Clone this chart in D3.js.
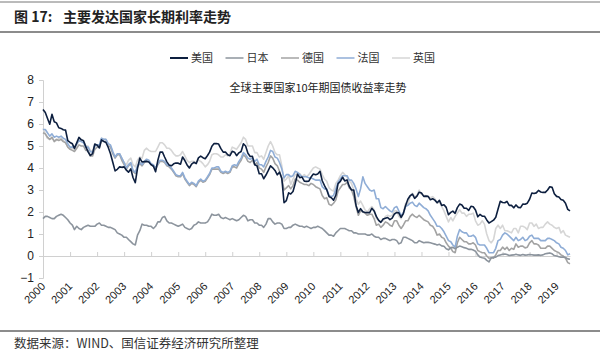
<!DOCTYPE html>
<html>
<head>
<meta charset="utf-8">
<script src="https://cdn.jsdelivr.net/npm/d3@7"></script>
<style>
  body { margin: 0; background: #fff; }
  svg { display: block; }
</style>
</head>
<body>
<svg width="600" height="352"></svg>
<script>
// monthly 10y yields, Jan 2000 .. Jul 2019
var seriesNames = ["美国", "日本", "德国", "法国", "英国"];
var seriesColors = ["#0d1f3f", "#8c949d", "#a3a3a3", "#8fadd6", "#d6d6d6"];

var us = [
  6.66, 6.52, 6.26, 5.99, 6.44, 6.10, 6.05, 5.83, 5.80, 5.74, 5.72, 5.24,
  5.16, 5.10, 4.89, 5.14, 5.39, 5.28, 5.24, 4.97, 4.73, 4.57, 4.65, 5.09,
  5.04, 4.91, 5.28, 5.21, 5.16, 4.93, 4.65, 4.26, 3.87, 3.94, 4.05, 4.03,
  4.05, 3.90, 3.81, 3.96, 3.57, 3.33, 3.98, 4.45, 4.27, 4.29, 4.30, 4.27,
  4.15, 4.08, 3.83, 4.35, 4.72, 4.73, 4.50, 4.28, 4.13, 4.10, 4.19, 4.23,
  4.22, 4.17, 4.50, 4.34, 4.14, 4.00, 4.18, 4.26, 4.20, 4.46, 4.54, 4.47,
  4.42, 4.57, 4.72, 4.99, 5.11, 5.11, 5.09, 4.88, 4.72, 4.73, 4.60, 4.56,
  4.76, 4.72, 4.56, 4.69, 4.75, 5.10, 5.00, 4.67, 4.52, 4.53, 4.15, 4.10,
  3.74, 3.74, 3.51, 3.68, 3.88, 4.10, 4.01, 3.89, 3.69, 3.81, 3.53, 2.42,
  2.52, 2.87, 2.82, 2.93, 3.29, 3.72, 3.56, 3.59, 3.40, 3.39, 3.40, 3.59,
  3.73, 3.69, 3.73, 3.85, 3.42, 3.20, 3.01, 2.70, 2.65, 2.54, 2.76, 3.29,
  3.39, 3.58, 3.41, 3.46, 3.17, 3.00, 3.00, 2.30, 1.98, 2.15, 2.01, 1.98,
  1.97, 1.97, 2.17, 2.05, 1.80, 1.62, 1.53, 1.68, 1.72, 1.75, 1.65, 1.72,
  1.91, 1.98, 1.96, 1.76, 1.93, 2.30, 2.58, 2.74, 2.81, 2.62, 2.72, 2.90,
  2.86, 2.71, 2.72, 2.71, 2.56, 2.60, 2.54, 2.42, 2.53, 2.30, 2.33, 2.21,
  1.88, 1.98, 2.04, 1.94, 2.20, 2.36, 2.32, 2.17, 2.17, 2.07, 2.26, 2.24,
  2.09, 1.78, 1.89, 1.81, 1.81, 1.64, 1.50, 1.56, 1.63, 1.76, 2.14, 2.49,
  2.43, 2.42, 2.48, 2.30, 2.30, 2.19, 2.32, 2.21, 2.20, 2.36, 2.35, 2.40,
  2.58, 2.86, 2.84, 2.87, 2.98, 2.91, 2.89, 2.89, 3.00, 3.15, 3.12, 2.83,
  2.71, 2.68, 2.57, 2.53, 2.40, 2.12, 2.05
];

var jp = [
  1.70, 1.80, 1.80, 1.75, 1.70, 1.70, 1.80, 1.85, 1.90, 1.85, 1.75, 1.65,
  1.50, 1.40, 1.20, 1.35, 1.25, 1.20, 1.30, 1.35, 1.40, 1.35, 1.35, 1.35,
  1.45, 1.50, 1.40, 1.40, 1.35, 1.30, 1.30, 1.25, 1.20, 1.05, 1.00, 0.95,
  0.85, 0.85, 0.75, 0.65, 0.55, 0.50, 0.95, 1.15, 1.45, 1.40, 1.40, 1.35,
  1.35, 1.25, 1.35, 1.55, 1.55, 1.75, 1.80, 1.60, 1.50, 1.50, 1.45, 1.40,
  1.35, 1.40, 1.45, 1.30, 1.25, 1.20, 1.25, 1.40, 1.45, 1.55, 1.50, 1.50,
  1.50, 1.55, 1.70, 1.90, 1.85, 1.85, 1.90, 1.75, 1.70, 1.75, 1.70, 1.65,
  1.70, 1.65, 1.60, 1.65, 1.75, 1.85, 1.80, 1.60, 1.65, 1.65, 1.50, 1.50,
  1.40, 1.40, 1.30, 1.45, 1.70, 1.70, 1.55, 1.45, 1.50, 1.50, 1.45, 1.25,
  1.25, 1.30, 1.30, 1.40, 1.45, 1.40, 1.35, 1.35, 1.30, 1.35, 1.30, 1.25,
  1.30, 1.30, 1.35, 1.30, 1.25, 1.15, 1.05, 0.95, 0.95, 0.90, 1.05, 1.15,
  1.25, 1.25, 1.25, 1.20, 1.15, 1.15, 1.05, 1.05, 1.00, 1.00, 1.00, 1.00,
  0.95, 0.95, 1.00, 0.90, 0.85, 0.85, 0.75, 0.80, 0.80, 0.75, 0.70, 0.75,
  0.75, 0.70, 0.55, 0.60, 0.85, 0.85, 0.80, 0.75, 0.70, 0.60, 0.60, 0.70,
  0.65, 0.60, 0.62, 0.62, 0.60, 0.57, 0.54, 0.50, 0.53, 0.46, 0.44, 0.33,
  0.28, 0.38, 0.39, 0.33, 0.40, 0.45, 0.42, 0.38, 0.35, 0.30, 0.31, 0.27,
  0.22, 0.05, -0.05, -0.08, -0.10, -0.20, -0.27, -0.08, -0.06, -0.05, 0.02, 0.05,
  0.08, 0.09, 0.07, 0.02, 0.04, 0.05, 0.08, 0.05, 0.03, 0.07, 0.04, 0.05,
  0.07, 0.06, 0.04, 0.04, 0.05, 0.03, 0.05, 0.10, 0.12, 0.14, 0.10, 0.02,
  0.00, -0.03, -0.06, -0.05, -0.07, -0.13, -0.15
];

var de = [
  5.60, 5.55, 5.40, 5.30, 5.40, 5.20, 5.30, 5.25, 5.30, 5.20, 5.15, 4.95,
  4.85, 4.80, 4.75, 4.90, 5.05, 5.00, 5.00, 4.80, 4.80, 4.55, 4.55, 4.85,
  4.95, 4.95, 5.25, 5.20, 5.20, 5.00, 4.95, 4.65, 4.45, 4.60, 4.60, 4.35,
  4.15, 3.95, 4.10, 4.20, 3.85, 3.75, 4.05, 4.20, 4.10, 4.25, 4.35, 4.30,
  4.15, 4.10, 3.95, 4.15, 4.30, 4.30, 4.25, 4.10, 4.05, 3.95, 3.80, 3.65,
  3.60, 3.60, 3.75, 3.50, 3.35, 3.20, 3.30, 3.25, 3.15, 3.35, 3.45, 3.35,
  3.40, 3.55, 3.70, 3.95, 3.95, 3.95, 3.95, 3.80, 3.75, 3.80, 3.75, 3.80,
  4.05, 4.05, 4.00, 4.20, 4.35, 4.60, 4.50, 4.30, 4.25, 4.35, 4.15, 4.25,
  4.00, 3.95, 3.80, 4.05, 4.25, 4.55, 4.45, 4.20, 4.10, 3.85, 3.50, 3.00,
  3.10, 3.20, 3.05, 3.20, 3.50, 3.45, 3.35, 3.30, 3.25, 3.25, 3.20, 3.30,
  3.25, 3.15, 3.10, 3.05, 2.75, 2.60, 2.65, 2.35, 2.30, 2.40, 2.55, 2.95,
  3.10, 3.25, 3.25, 3.35, 3.10, 3.00, 2.70, 2.25, 1.85, 2.05, 2.00, 1.95,
  1.85, 1.90, 1.90, 1.70, 1.40, 1.45, 1.30, 1.40, 1.55, 1.50, 1.40, 1.35,
  1.60, 1.60, 1.40, 1.25, 1.40, 1.60, 1.60, 1.80, 1.90, 1.80, 1.75, 1.85,
  1.75, 1.65, 1.60, 1.55, 1.40, 1.35, 1.20, 0.95, 1.00, 0.85, 0.80, 0.60,
  0.45, 0.35, 0.20, 0.15, 0.60, 0.85, 0.75, 0.65, 0.65, 0.55, 0.55, 0.60,
  0.50, 0.25, 0.20, 0.15, 0.15, 0.00, -0.10, -0.08, -0.10, 0.05, 0.25, 0.25,
  0.40, 0.30, 0.40, 0.25, 0.35, 0.30, 0.55, 0.40, 0.45, 0.45, 0.37, 0.40,
  0.60, 0.70, 0.55, 0.55, 0.50, 0.35, 0.35, 0.35, 0.45, 0.45, 0.35, 0.25,
  0.20, 0.15, 0.05, 0.00, -0.10, -0.30, -0.35
];

var fr = [
  5.75, 5.75, 5.60, 5.45, 5.55, 5.40, 5.45, 5.40, 5.45, 5.35, 5.30, 5.10,
  4.95, 4.95, 4.95, 5.10, 5.25, 5.20, 5.15, 4.95, 4.95, 4.75, 4.70, 5.00,
  5.05, 5.05, 5.35, 5.30, 5.30, 5.10, 5.05, 4.75, 4.50, 4.65, 4.65, 4.45,
  4.25, 4.00, 4.15, 4.25, 3.90, 3.80, 4.10, 4.25, 4.15, 4.30, 4.40, 4.35,
  4.20, 4.15, 4.00, 4.20, 4.35, 4.35, 4.30, 4.15, 4.10, 4.00, 3.85, 3.70,
  3.65, 3.65, 3.80, 3.55, 3.40, 3.25, 3.35, 3.30, 3.20, 3.40, 3.50, 3.40,
  3.45, 3.60, 3.75, 4.00, 4.00, 4.05, 4.05, 3.85, 3.80, 3.85, 3.80, 3.85,
  4.10, 4.15, 4.10, 4.30, 4.45, 4.70, 4.60, 4.45, 4.40, 4.45, 4.30, 4.40,
  4.15, 4.15, 4.05, 4.30, 4.50, 4.80, 4.75, 4.50, 4.45, 4.25, 3.95, 3.55,
  3.70, 3.70, 3.60, 3.65, 3.85, 3.80, 3.70, 3.60, 3.60, 3.60, 3.55, 3.55,
  3.50, 3.45, 3.45, 3.45, 3.15, 3.05, 3.05, 2.75, 2.70, 2.75, 3.05, 3.35,
  3.50, 3.65, 3.65, 3.65, 3.45, 3.45, 3.30, 3.05, 2.70, 3.05, 3.60, 3.30,
  3.15, 3.00, 2.95, 3.00, 2.60, 2.60, 2.20, 2.15, 2.25, 2.15, 2.05, 2.00,
  2.20, 2.25, 2.05, 1.85, 1.95, 2.25, 2.30, 2.40, 2.45, 2.30, 2.25, 2.40,
  2.30, 2.20, 2.15, 2.05, 1.85, 1.70, 1.55, 1.35, 1.35, 1.25, 1.10, 0.90,
  0.70, 0.65, 0.50, 0.40, 0.90, 1.20, 1.10, 1.05, 1.05, 0.90, 0.90, 0.95,
  0.85, 0.55, 0.50, 0.50, 0.50, 0.35, 0.15, 0.15, 0.15, 0.35, 0.70, 0.75,
  0.95, 1.05, 1.00, 0.90, 0.80, 0.70, 0.85, 0.70, 0.75, 0.85, 0.70, 0.75,
  0.90, 0.95, 0.80, 0.80, 0.80, 0.70, 0.70, 0.70, 0.80, 0.80, 0.75, 0.70,
  0.60, 0.55, 0.40, 0.35, 0.25, 0.05, 0.10
];

var uk = [
  5.80, 5.55, 5.35, 5.30, 5.35, 5.25, 5.25, 5.35, 5.35, 5.25, 5.15, 4.95,
  4.90, 4.90, 4.85, 5.05, 5.25, 5.30, 5.25, 5.00, 5.00, 4.80, 4.75, 5.05,
  5.00, 5.05, 5.35, 5.30, 5.30, 5.10, 5.00, 4.70, 4.50, 4.60, 4.65, 4.45,
  4.25, 4.15, 4.35, 4.45, 4.15, 4.05, 4.35, 4.50, 4.45, 4.80, 4.90, 4.80,
  4.75, 4.75, 4.75, 4.95, 5.15, 5.15, 5.05, 4.90, 4.90, 4.80, 4.65, 4.55,
  4.55, 4.60, 4.75, 4.55, 4.35, 4.25, 4.30, 4.30, 4.25, 4.35, 4.30, 4.20,
  4.05, 4.15, 4.30, 4.60, 4.65, 4.65, 4.60, 4.50, 4.50, 4.60, 4.55, 4.65,
  4.95, 4.90, 4.85, 5.00, 5.15, 5.40, 5.30, 5.00, 5.00, 5.00, 4.70, 4.70,
  4.50, 4.55, 4.40, 4.70, 5.00, 5.20, 5.00, 4.70, 4.60, 4.60, 4.10, 3.40,
  3.50, 3.65, 3.25, 3.50, 3.70, 3.75, 3.75, 3.60, 3.70, 3.60, 3.70, 3.85,
  4.00, 4.05, 4.00, 3.95, 3.70, 3.50, 3.40, 3.10, 3.00, 2.95, 3.30, 3.45,
  3.65, 3.80, 3.70, 3.60, 3.40, 3.30, 3.00, 2.60, 2.35, 2.50, 2.30, 2.10,
  2.00, 2.15, 2.25, 2.10, 1.70, 1.65, 1.55, 1.60, 1.80, 1.85, 1.80, 1.85,
  2.05, 2.05, 1.80, 1.70, 1.95, 2.40, 2.35, 2.70, 2.85, 2.70, 2.75, 3.00,
  2.80, 2.75, 2.75, 2.70, 2.65, 2.70, 2.60, 2.40, 2.45, 2.25, 2.05, 1.80,
  1.55, 1.75, 1.60, 1.80, 1.95, 2.10, 1.95, 1.95, 1.80, 1.90, 1.90, 1.95,
  1.60, 1.40, 1.45, 1.60, 1.45, 1.00, 0.70, 0.60, 0.75, 1.25, 1.40, 1.25,
  1.40, 1.15, 1.15, 1.10, 1.05, 1.25, 1.25, 1.05, 1.35, 1.35, 1.30, 1.20,
  1.50, 1.50, 1.35, 1.45, 1.25, 1.30, 1.30, 1.45, 1.55, 1.45, 1.40, 1.30,
  1.25, 1.30, 1.05, 1.15, 0.95, 0.90, 0.85
];

var yTicks = [-1, 0, 1, 2, 3, 4, 5, 6, 7, 8];
var yearTicks = d3.range(2000, 2020);

var allSeries = [us, jp, de, fr, uk];
// drawing order, bottom to top
var drawOrder = [4, 2, 3, 1, 0];

var svg = d3.select("svg");

// header / footer rules and text
svg.append("line").attr("x1", 0).attr("x2", 600).attr("y1", 2).attr("y2", 2)
  .attr("stroke", "#777").attr("stroke-width", 1);
var title = svg.append("text").attr("y", 22)
  .attr("font-family", "'Noto Sans CJK SC', sans-serif")
  .attr("font-size", 14).attr("font-weight", "bold").attr("fill", "#222");
title.append("tspan").attr("x", 14).text("图 17:");
title.append("tspan").attr("x", 63).text("主要发达国家长期利率走势");
svg.append("line").attr("x1", 0).attr("x2", 600).attr("y1", 32).attr("y2", 32)
  .attr("stroke", "#666").attr("stroke-width", 1.5);

svg.append("line").attr("x1", 0).attr("x2", 600).attr("y1", 331).attr("y2", 331)
  .attr("stroke", "#666").attr("stroke-width", 1.5);
svg.append("text").attr("x", 14).attr("y", 348)
  .attr("font-family", "'Noto Sans CJK SC', sans-serif")
  .attr("font-size", 12.5).attr("fill", "#333")
  .text("数据来源：WIND、国信证券经济研究所整理");

// scales
var xScale = d3.scaleTime()
  .domain([new Date(2000, 0, 1), new Date(2019, 6, 1)])
  .range([43, 570]);
var yScale = d3.scaleLinear().domain([-1, 8]).range([278, 80]);

var dates = us.map(function (d, i) { return new Date(2000, i, 1); });

// y axis
var yAxis = d3.axisLeft(yScale).tickValues(yTicks).tickSize(4).tickPadding(5)
  .tickFormat(d3.format("d"));
var yAxisG = svg.append("g").attr("transform", "translate(43,0)").call(yAxis);
yAxisG.select(".domain").attr("stroke", "#d0d0d0");
yAxisG.selectAll(".tick line").attr("stroke", "#d0d0d0");
yAxisG.selectAll(".tick text")
  .attr("font-family", "'Liberation Sans', Arial, sans-serif")
  .attr("font-size", 12).attr("fill", "#222");

// x axis line at 0 with year ticks
var xAxis = d3.axisTop(xScale)
  .tickValues(yearTicks.map(function (y) { return new Date(y, 0, 1); }))
  .tickSize(4).tickSizeOuter(0).tickFormat("");
var xAxisG = svg.append("g").attr("transform", "translate(0," + yScale(0) + ")").call(xAxis);
xAxisG.select(".domain").attr("stroke", "#d0d0d0");
xAxisG.selectAll(".tick line").attr("stroke", "#d0d0d0");

// rotated year labels below plot
svg.append("g").selectAll("text")
  .data(yearTicks)
  .enter()
  .append("text")
  .attr("transform", function (y) {
    return "translate(" + (xScale(new Date(y, 0, 1)) + 3) + "," + (yScale(-1) + 9) + ") rotate(-45)";
  })
  .attr("text-anchor", "end")
  .attr("font-family", "'Liberation Sans', Arial, sans-serif")
  .attr("font-size", 11).attr("fill", "#222")
  .text(function (y) { return y; });

// lines
var line = d3.line()
  .x(function (d, i) { return xScale(dates[i]); })
  .y(function (d) { return yScale(d); });

drawOrder.forEach(function (k) {
  svg.append("path")
    .attr("d", line(allSeries[k]))
    .attr("fill", "none")
    .attr("stroke", seriesColors[k])
    .attr("stroke-width", 1.6)
    .attr("stroke-linejoin", "round");
});

// legend
var legend = svg.append("g").attr("transform", "translate(170,58)");
seriesNames.forEach(function (name, i) {
  var g = legend.append("g").attr("transform", "translate(" + (i * 55.5) + ",0)");
  g.append("line").attr("x1", 0).attr("x2", 18).attr("y1", 0).attr("y2", 0)
    .attr("stroke", seriesColors[i]).attr("stroke-width", i === 0 ? 2 : 1.5);
  g.append("text").attr("x", 21).attr("y", 4)
    .attr("font-family", "'Noto Sans CJK SC', sans-serif")
    .attr("font-size", 11).attr("fill", "#333")
    .text(name);
});

// subtitle
svg.append("text").attr("x", 318).attr("y", 92)
  .attr("text-anchor", "middle")
  .attr("font-family", "'Noto Sans CJK SC', sans-serif")
  .attr("font-size", 11).attr("fill", "#222")
  .text("全球主要国家10年期国债收益率走势");
</script>
</body>
</html>
